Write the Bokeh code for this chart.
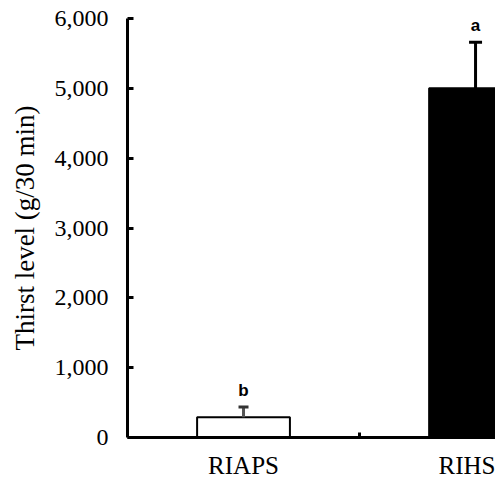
from bokeh.plotting import figure
from bokeh.models import Range1d, LinearAxis, FixedTicker, NumeralTickFormatter, ColumnDataSource
from bokeh.core.properties import value
from bokeh.embed import file_html
from bokeh.resources import INLINE

# ---- data ----
groups = ["RIAPS", "RIHS"]
positions = [0.5, 1.5]
means = [290, 5000]
errors = [145, 660]
letters = ["b", "a"]
y_ticks = [0, 1000, 2000, 3000, 4000, 5000, 6000]

# ---- styles ----
fill_colors = ["white", "black"]
err_colors = ["#555555", "black"]
cap_colors = ["#333333", "black"]
cap_sizes = [10, 13]

upper = [m + e for m, e in zip(means, errors)]
src = ColumnDataSource(dict(x=positions, mean=means, upper=upper, letter=letters,
                            fill=fill_colors, ecol=err_colors, ccol=cap_colors, cap=cap_sizes))

SERIF = "Liberation Serif"

p = figure(width=495, height=481, x_range=Range1d(0, 1.586), y_range=Range1d(0, 6000),
           output_backend="svg", toolbar_location=None,
           min_border_left=127, min_border_right=0, min_border_top=18, min_border_bottom=44)
p.outline_line_color = None
p.grid.visible = False
p.background_fill_color = "white"
p.border_fill_color = "white"

p.vbar(x="x", width=0.4, top="mean", bottom=0, fill_color="fill", line_color="black",
       line_width=2, source=src)
p.segment(x0="x", y0="mean", x1="x", y1="upper", line_color="ecol", line_width=3, source=src)
p.scatter(x="x", y="upper", marker="dash", size="cap", line_color="ccol", line_width=3, source=src)
p.text(x="x", y="upper", text="letter", text_align="center", text_baseline="alphabetic",
       y_offset=-17, text_font=value("Liberation Sans"), text_font_size="17px",
       text_font_style="bold", text_color="black", source=src)

# y axis
ya = p.yaxis[0]
ya.ticker = FixedTicker(ticks=y_ticks)
ya.formatter = NumeralTickFormatter(format="0,0")
ya.major_tick_in = 6
ya.major_tick_out = 0
ya.minor_tick_line_color = None
ya.axis_line_width = 3
ya.major_tick_line_width = 3
ya.axis_line_color = "black"
ya.major_tick_line_color = "black"
ya.major_label_text_font = SERIF
ya.major_label_text_font_size = "24px"
ya.major_label_text_color = "black"
ya.major_label_standoff = 19
ya.axis_label = "Thirst level (g/30 min)"
ya.axis_label_text_font = SERIF
ya.axis_label_text_font_size = "27px"
ya.axis_label_text_font_style = "normal"
ya.axis_label_text_color = "black"
ya.axis_label_standoff = 12

# x axis line with the middle separator tick
xa = p.below[0]
xa.ticker = FixedTicker(ticks=[1])
xa.major_label_overrides = {1: ""}
xa.major_label_text_font_size = "0px"
xa.major_label_standoff = 0
xa.major_tick_in = 5
xa.major_tick_out = 0
xa.minor_tick_line_color = None
xa.axis_line_width = 3
xa.major_tick_line_width = 3
xa.axis_line_color = "black"

# category labels
xl = LinearAxis(ticker=FixedTicker(ticks=positions),
                major_label_overrides=dict(zip(positions, groups)),
                axis_line_color=None, major_tick_line_color=None, minor_tick_line_color=None,
                major_label_text_font=SERIF, major_label_text_font_size="25px",
                major_label_text_color="black", major_label_standoff=8)
p.add_layout(xl, "below")

open("out.html", "w").write(file_html(p, INLINE))
